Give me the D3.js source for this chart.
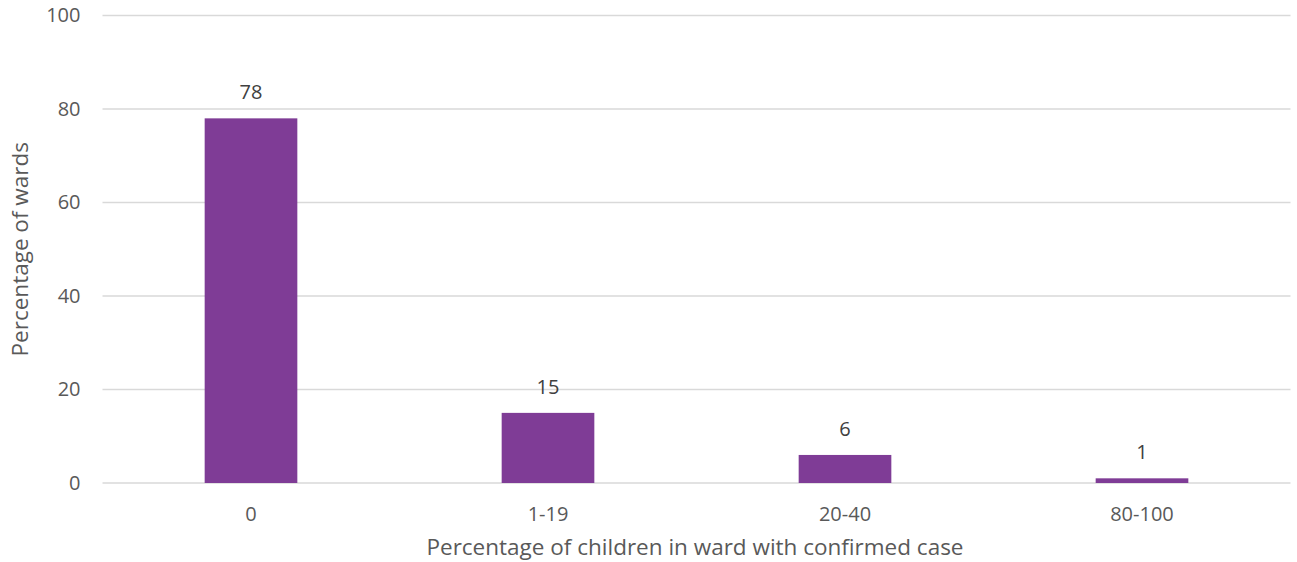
<!DOCTYPE html>
<html>
<head>
<meta charset="utf-8">
<script src="https://cdn.jsdelivr.net/npm/d3@7"></script>
<style>
  html, body { margin: 0; padding: 0; background: #fff; }
  svg { display: block; font-family: "Open Sans", "Liberation Sans", sans-serif; }
</style>
</head>
<body>
<svg id="chart" width="1297" height="562"></svg>
<script>
// Share of wards by the percentage of children with a confirmed case
const categories = ["0", "1-19", "20-40", "80-100"];
const values = [78, 15, 6, 1];
const yTicks = [0, 20, 40, 60, 80, 100];
const xTitle = "Percentage of children in ward with confirmed case";
const yTitle = "Percentage of wards";

const svg = d3.select("#chart");
const margin = { top: 15.5, right: 6.5, bottom: 79, left: 102.5 };
const W = 1297, H = 562;
const innerW = W - margin.left - margin.right;
const innerH = H - margin.top - margin.bottom;

const g = svg.append("g").attr("transform", `translate(${margin.left},${margin.top})`);

const x = d3.scaleBand().domain(categories).range([0, innerW])
  .paddingInner(0.688).paddingOuter(0.344);
const y = d3.scaleLinear().domain([0, 100]).range([innerH, 0]);

const textColor = "#595959";
const labelSize = "20px";
const titleSize = "22.5px";

// horizontal gridlines
g.append("g").selectAll("line").data(yTicks).join("line")
  .attr("x1", 0).attr("x2", innerW)
  .attr("y1", d => y(d)).attr("y2", d => y(d))
  .attr("stroke", "#d9d9d9").attr("stroke-width", 1.3);

// y axis labels
const yAxis = g.append("g").call(d3.axisLeft(y).tickValues(yTicks).tickSize(0).tickPadding(22));
yAxis.select(".domain").remove();
yAxis.selectAll("text").attr("fill", textColor).style("font-size", labelSize)
  .style("font-family", "'Open Sans', sans-serif");

// x axis labels
const xAxis = g.append("g").attr("transform", `translate(0,${innerH})`)
  .call(d3.axisBottom(x).tickSize(0).tickPadding(24));
xAxis.select(".domain").remove();
xAxis.selectAll("text").attr("fill", textColor).style("font-size", labelSize)
  .style("font-family", "'Open Sans', sans-serif");

// bars
g.append("g").selectAll("rect").data(values).join("rect")
  .attr("x", (d, i) => x(categories[i]))
  .attr("width", x.bandwidth())
  .attr("y", d => y(d))
  .attr("height", d => innerH - y(d))
  .attr("fill", "#7f3c96");

// value labels
g.append("g").selectAll("text").data(values).join("text")
  .attr("x", (d, i) => x(categories[i]) + x.bandwidth() / 2)
  .attr("y", d => y(d) - 19)
  .attr("text-anchor", "middle")
  .attr("fill", "#404040")
  .style("font-size", labelSize)
  .text(d => d);

// axis titles
svg.append("text")
  .attr("x", 695)
  .attr("y", 555)
  .attr("text-anchor", "middle")
  .attr("fill", textColor)
  .style("font-size", titleSize)
  .text(xTitle);

svg.append("text")
  .attr("transform", `translate(28,${margin.top + innerH / 2}) rotate(-90)`)
  .attr("text-anchor", "middle")
  .attr("fill", textColor)
  .style("font-size", titleSize)
  .text(yTitle);
</script>
</body>
</html>
